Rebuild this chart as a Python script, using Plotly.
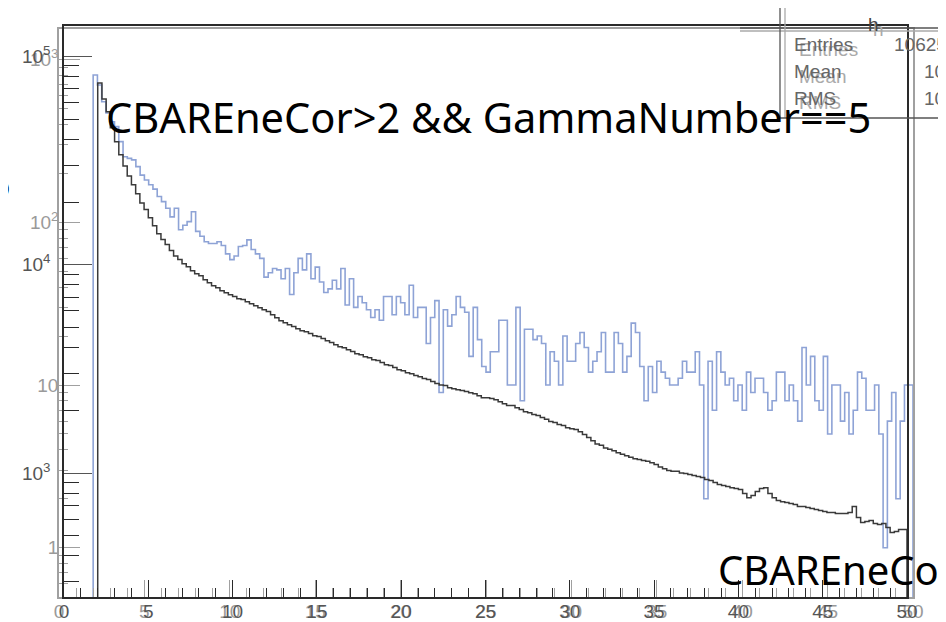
import numpy as np
import plotly.graph_objects as go

# binning shared by both histograms (CBAREneCor, 0.25 wide bins from 2 to 50)
bin_low = 2.0
bin_width = 0.25

# black histogram (left log axis 10^3 .. 10^5)
black_counts = [
    74600, 62500, 54200, 45400, 38900, 33700, 29800, 26700, 24200, 21900,
    19800, 18400, 16800, 15400, 14100, 13200, 12500, 11700, 11000, 10600,
    10100, 9780, 9360, 9060, 8850, 8470, 8200, 7930, 7760, 7500,
    7340, 7180, 7030, 6870, 6800, 6650, 6500, 6360, 6220, 6080,
    5960, 5750, 5570, 5380, 5270, 5150, 5050, 4930, 4820, 4770,
    4670, 4560, 4520, 4420, 4320, 4230, 4130, 4040, 4000, 3910,
    3830, 3740, 3700, 3620, 3580, 3500, 3470, 3390, 3310, 3280,
    3210, 3130, 3100, 3030, 3000, 2940, 2900, 2840, 2810, 2750,
    2690, 2650, 2630, 2570, 2540, 2510, 2490, 2460, 2430, 2400,
    2350, 2300, 2300, 2280, 2250, 2200, 2150, 2110, 2110, 2060,
    2020, 1970, 1950, 1910, 1890, 1850, 1810, 1770, 1750, 1710,
    1690, 1650, 1630, 1620, 1580, 1530, 1480, 1430, 1380, 1360,
    1320, 1300, 1280, 1250, 1230, 1210, 1190, 1170, 1160, 1150,
    1140, 1120, 1100, 1070, 1050, 1030, 1020, 1020, 1000, 995,
    984, 973, 962, 951, 931, 920, 900, 881, 871, 861,
    851, 843, 834, 798, 762, 780, 815, 843, 851, 798,
    762, 738, 729, 722, 714, 706, 690, 690, 684, 676,
    668, 661, 653, 647, 647, 640, 640, 640, 647, 690,
    612, 579, 585, 592, 573, 566, 573, 548, 519, 524,
    536, 536,
]

# blue histogram (gray log axis 1 .. 10^3)
blue_counts = [
    804, 698, 551, 470, 415, 387, 313, 253, 247, 242,
    220, 195, 182, 170, 160, 144, 134, 122, 108, 122,
    90, 96, 101, 116, 88, 82, 76, 74, 74, 76,
    72, 64, 59, 62, 71, 72, 78, 68, 64, 60,
    46, 49, 52, 51, 45, 52, 36, 49, 60, 51,
    64, 45, 53, 43, 37, 39, 44, 39, 52, 31,
    45, 30, 35, 32, 29, 26, 29, 25, 35, 35,
    27, 35, 32, 27, 41, 26, 30, 30, 18, 26,
    33, 9, 29, 23, 27, 35, 30, 28, 15, 30,
    19, 13, 12, 16, 16, 25, 25, 10, 10, 30,
    8, 22, 22, 19, 20, 18, 10, 16, 14, 10,
    20, 14, 14, 18, 21, 17, 12, 14, 16, 21,
    12, 12, 21, 18, 12, 15, 24, 21, 13, 8,
    13, 9, 14, 12, 11, 10, 10, 11, 14, 12,
    12, 16, 10, 2, 14, 7, 16, 12, 10, 11,
    8, 10, 7, 12, 9, 11, 11, 9, 7, 8,
    12, 12, 8, 10, 8, 6, 17, 10, 15, 8,
    7, 15, 5, 10, 10, 6, 9, 5, 7, 12,
    11, 7, 7, 10, 5, 1, 6, 9, 2, 6,
    10, 10,
]

black_ticks = [1e3, 1e4, 1e5]
black_ticktext = ["10<sup>3</sup>", "10<sup>4</sup>", "10<sup>5</sup>"]
blue_ticks = [1, 10, 100, 1000]
blue_ticktext = ["1", "10", "10<sup>2</sup>", "10<sup>3</sup>"]
x_ticks = list(range(0, 51, 5))

W, H = 946, 622
PAGE_PAD = 8  # the html body margin shifts the figure by this much


def px(x):
    return (x - PAGE_PAD) / W


def py(y):
    return 1 - (y - PAGE_PAD) / H


def outline(counts, floor):
    edges = bin_low + bin_width * np.arange(len(counts) + 1)
    xs = [edges[0]] + list(edges[:-1]) + [edges[-1]]
    ys = [floor] + list(counts) + [floor]
    return xs, ys


def minor_vals(lo, hi):
    out = []
    for d in range(lo, hi + 1):
        for m in range(2, 10):
            out.append(m * 10.0 ** d)
    return out


fig = go.Figure()

bx, by = outline(blue_counts, 1e-3)
fig.add_trace(go.Scatter(x=bx, y=by, mode="lines", line_shape="hv",
                         line=dict(color="#8ea3d6", width=1.6),
                         xaxis="x", yaxis="y", hoverinfo="skip"))

kx, ky = outline(black_counts, 1.0)
fig.add_trace(go.Scatter(x=kx, y=ky, mode="lines", line_shape="hv",
                         line=dict(color="#3a3a3a", width=1.5),
                         xaxis="x2", yaxis="y2", hoverinfo="skip"))

tick_font_gray = dict(family="Liberation Sans, Arial", size=19, color="#9a9a9a")
tick_font_dark = dict(family="Liberation Sans, Arial", size=19, color="#555555")

common = dict(showline=True, mirror=True, linewidth=1.5, showgrid=False,
              zeroline=False, automargin=False, fixedrange=True)

fig.update_layout(
    width=W, height=H,
    margin=dict(l=0, r=0, t=0, b=0),
    paper_bgcolor="white", plot_bgcolor="rgba(0,0,0,0)",
    showlegend=False,
    # gray frame (blue histogram)
    xaxis=dict(domain=[px(59), px(913)], range=[0, 50], anchor="y",
               linecolor="#a0a0a0",
               tickmode="array", tickvals=x_ticks, ticks="inside", ticklen=17,
               tickcolor="#a0a0a0", tickwidth=1, tickfont=tick_font_gray,
               ticklabelstandoff=-4,
               minor=dict(tickmode="array", tickvals=list(range(0, 51)),
                          ticks="inside", ticklen=9, tickcolor="#a0a0a0", showgrid=False),
               **common),
    yaxis=dict(domain=[py(597), py(29)], type="log", range=[-0.303, 3.188], anchor="x",
               linecolor="#a0a0a0",
               tickmode="array", tickvals=blue_ticks, ticktext=blue_ticktext,
               ticks="inside", ticklen=21, tickcolor="#a0a0a0", tickwidth=1,
               tickfont=tick_font_gray, ticklabelstandoff=-5,
               minor=dict(tickmode="array", tickvals=minor_vals(-1, 2)[3:],
                          ticks="inside", ticklen=9, tickcolor="#a0a0a0", showgrid=False),
               **common),
    # black frame (black histogram)
    xaxis2=dict(domain=[px(64), px(907)], range=[0, 50], anchor="y2",
                linecolor="#2a2a2a",
                tickmode="array", tickvals=x_ticks, ticks="inside", ticklen=17,
                tickcolor="#2a2a2a", tickwidth=1, tickfont=tick_font_dark,
                ticklabelstandoff=-4,
                minor=dict(tickmode="array", tickvals=list(range(0, 51)),
                           ticks="inside", ticklen=9, tickcolor="#2a2a2a", showgrid=False),
                **common),
    yaxis2=dict(domain=[py(597), py(26)], type="log", range=[2.405, 5.146], anchor="x2",
                linecolor="#2a2a2a",
                tickmode="array", tickvals=black_ticks, ticktext=black_ticktext,
                ticks="inside", ticklen=28, tickcolor="#555555", tickwidth=1,
                tickfont=tick_font_dark, ticklabelstandoff=8,
                minor=dict(tickmode="array", tickvals=minor_vals(2, 4),
                           ticks="inside", ticklen=15, tickcolor="#2a2a2a", showgrid=False),
                **common),
)

# stats box outlines
box_lines = [
    (740, 28, W + 10, 28, "#555555"), (740, 31, W + 10, 31, "#aaaaaa"),
    (780, 0, 780, 118, "#555555"), (785, 0, 785, 118, "#aaaaaa"),
    (780, 118, W + 10, 118, "#555555"),
]
for x0, y0, x1, y1, c in box_lines:
    fig.add_shape(type="line", xref="paper", yref="paper",
                  x0=px(x0), y0=py(y0), x1=px(x1), y1=py(y1),
                  line=dict(color=c, width=1.3))

stat_font = "Liberation Sans, Arial"
stats = [("Entries", "10625", 45, 949), ("Mean", "10", 72, 947), ("RMS", "10", 98, 947)]
for label, val, yy, xr in stats:
    fig.add_annotation(x=px(797), y=py(yy + 4), xref="paper", yref="paper", text=label,
                       showarrow=False, xanchor="left", yanchor="middle",
                       font=dict(family=stat_font, size=19, color="#aaaaaa"))
    fig.add_annotation(x=px(792), y=py(yy), xref="paper", yref="paper", text=label,
                       showarrow=False, xanchor="left", yanchor="middle",
                       font=dict(family=stat_font, size=19, color="#666666"))
    fig.add_annotation(x=px(xr), y=py(yy), xref="paper", yref="paper", text=val,
                       showarrow=False, xanchor="right", yanchor="middle",
                       font=dict(family=stat_font, size=19, color="#666666"))

fig.add_annotation(x=px(886), y=py(17), xref="paper", yref="paper", text="h",
                   showarrow=False, font=dict(family=stat_font, size=19, color="#aaaaaa"))
fig.add_annotation(x=px(881), y=py(12), xref="paper", yref="paper", text="h",
                   showarrow=False, font=dict(family=stat_font, size=19, color="#444444"))

# overlaid slide texts
big = "Noto Sans, Calibri, sans-serif"
fig.add_annotation(x=px(104), y=py(117), xref="paper", yref="paper",
                   text="CBAREneCor>2 && GammaNumber==5", showarrow=False,
                   xanchor="left", yanchor="middle",
                   font=dict(family=big, size=41.6, color="black"))
fig.add_annotation(x=px(716), y=py(569), xref="paper", yref="paper",
                   text="CBAREneCo", showarrow=False,
                   xanchor="left", yanchor="middle",
                   font=dict(family=big, size=40, color="black"))
fig.add_annotation(x=px(13), y=py(182), xref="paper", yref="paper",
                   text="5", showarrow=False,
                   xanchor="right", yanchor="middle",
                   font=dict(family=big, size=42, color="black"))

fig.write_html("out.html")
